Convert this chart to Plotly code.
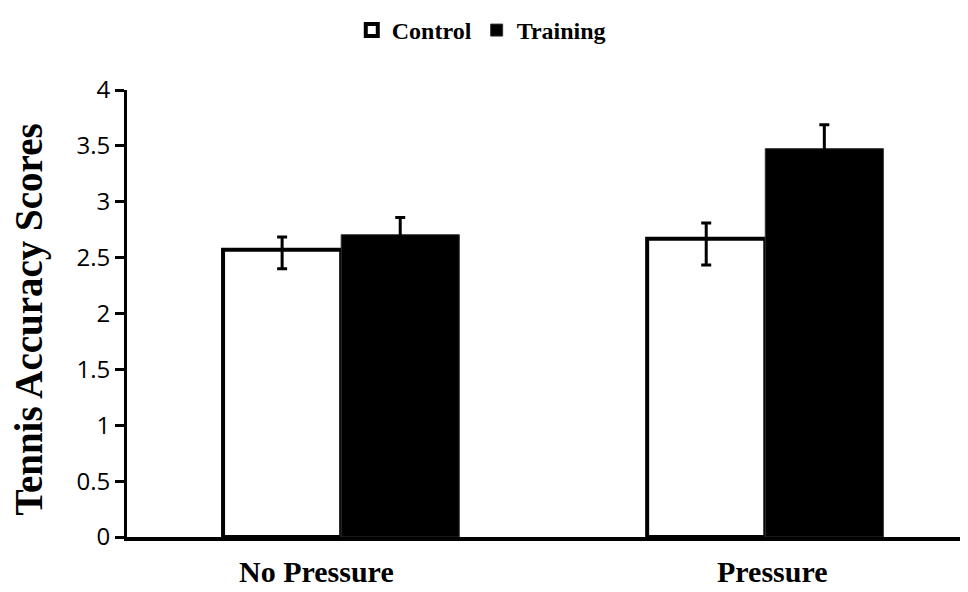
import plotly.graph_objects as go

categories = ["No Pressure", "Pressure"]
control_vals = [2.57, 2.67]
control_err_plus = [0.115, 0.14]
control_err_minus = [0.17, 0.235]
training_vals = [2.705, 3.475]
training_err_plus = [0.155, 0.215]
training_err_minus = [0.155, 0.215]
y_ticks = [0, 0.5, 1, 1.5, 2, 2.5, 3, 3.5, 4]
y_tick_text = ["0", "0.5", "1", "1.5", "2", "2.5", "3", "3.5", "4"]

xpos = list(range(len(categories)))

fig = go.Figure()
fig.add_trace(go.Bar(
    name="Control", x=xpos, y=control_vals,
    marker=dict(color="white", line=dict(color="black", width=4)),
    error_y=dict(type="data", array=control_err_plus, arrayminus=control_err_minus,
                 symmetric=False, color="black", thickness=3, width=5),
))
fig.add_trace(go.Bar(
    name="Training", x=xpos, y=training_vals,
    marker=dict(color="black", line=dict(color="#333333", width=1)),
    error_y=dict(type="data", array=training_err_plus, arrayminus=training_err_minus,
                 symmetric=False, color="black", thickness=3, width=5),
))

label_shift = [-25, 7]
for i, cat in enumerate(categories):
    fig.add_annotation(x=xpos[i], y=0, xref="x", yref="y", text="<b>" + cat + "</b>",
                       showarrow=False, yanchor="top", yshift=-16, xshift=label_shift[i],
                       font=dict(family="Liberation Serif", size=30, color="black"))

fig.add_annotation(x=0, y=0.5, xref="paper", yref="paper", text="<b>Tennis Accuracy Scores</b>",
                   textangle=-90, showarrow=False, xanchor="center", yanchor="middle",
                   xshift=-99, yshift=-6,
                   font=dict(family="Liberation Serif", size=39, color="black"))

fig.update_layout(
    width=960, height=584,
    margin=dict(l=119, r=0, t=82, b=55),
    paper_bgcolor="white", plot_bgcolor="white",
    barmode="group", bargap=0.443, bargroupgap=0,
    showlegend=True,
    legend=dict(orientation="h", xref="container", yref="container",
                x=0.493, xanchor="center", y=1.0, yanchor="top",
                font=dict(family="Liberation Serif", size=24, color="black", weight="bold"),
                itemwidth=30, traceorder="normal"),
    xaxis=dict(range=[-0.505, 1.478], showticklabels=False, ticks="",
               showgrid=False, zeroline=False, showline=True, linecolor="black", linewidth=4),
    yaxis=dict(range=[0, 4], tickvals=y_ticks, ticktext=y_tick_text, ticks="outside",
               ticklen=9, tickwidth=3, tickcolor="black", showgrid=False, zeroline=False,
               showline=True, linecolor="black", linewidth=3,
               tickfont=dict(family="Open Sans", size=24, color="black")),
)

fig.write_html("out.html")
